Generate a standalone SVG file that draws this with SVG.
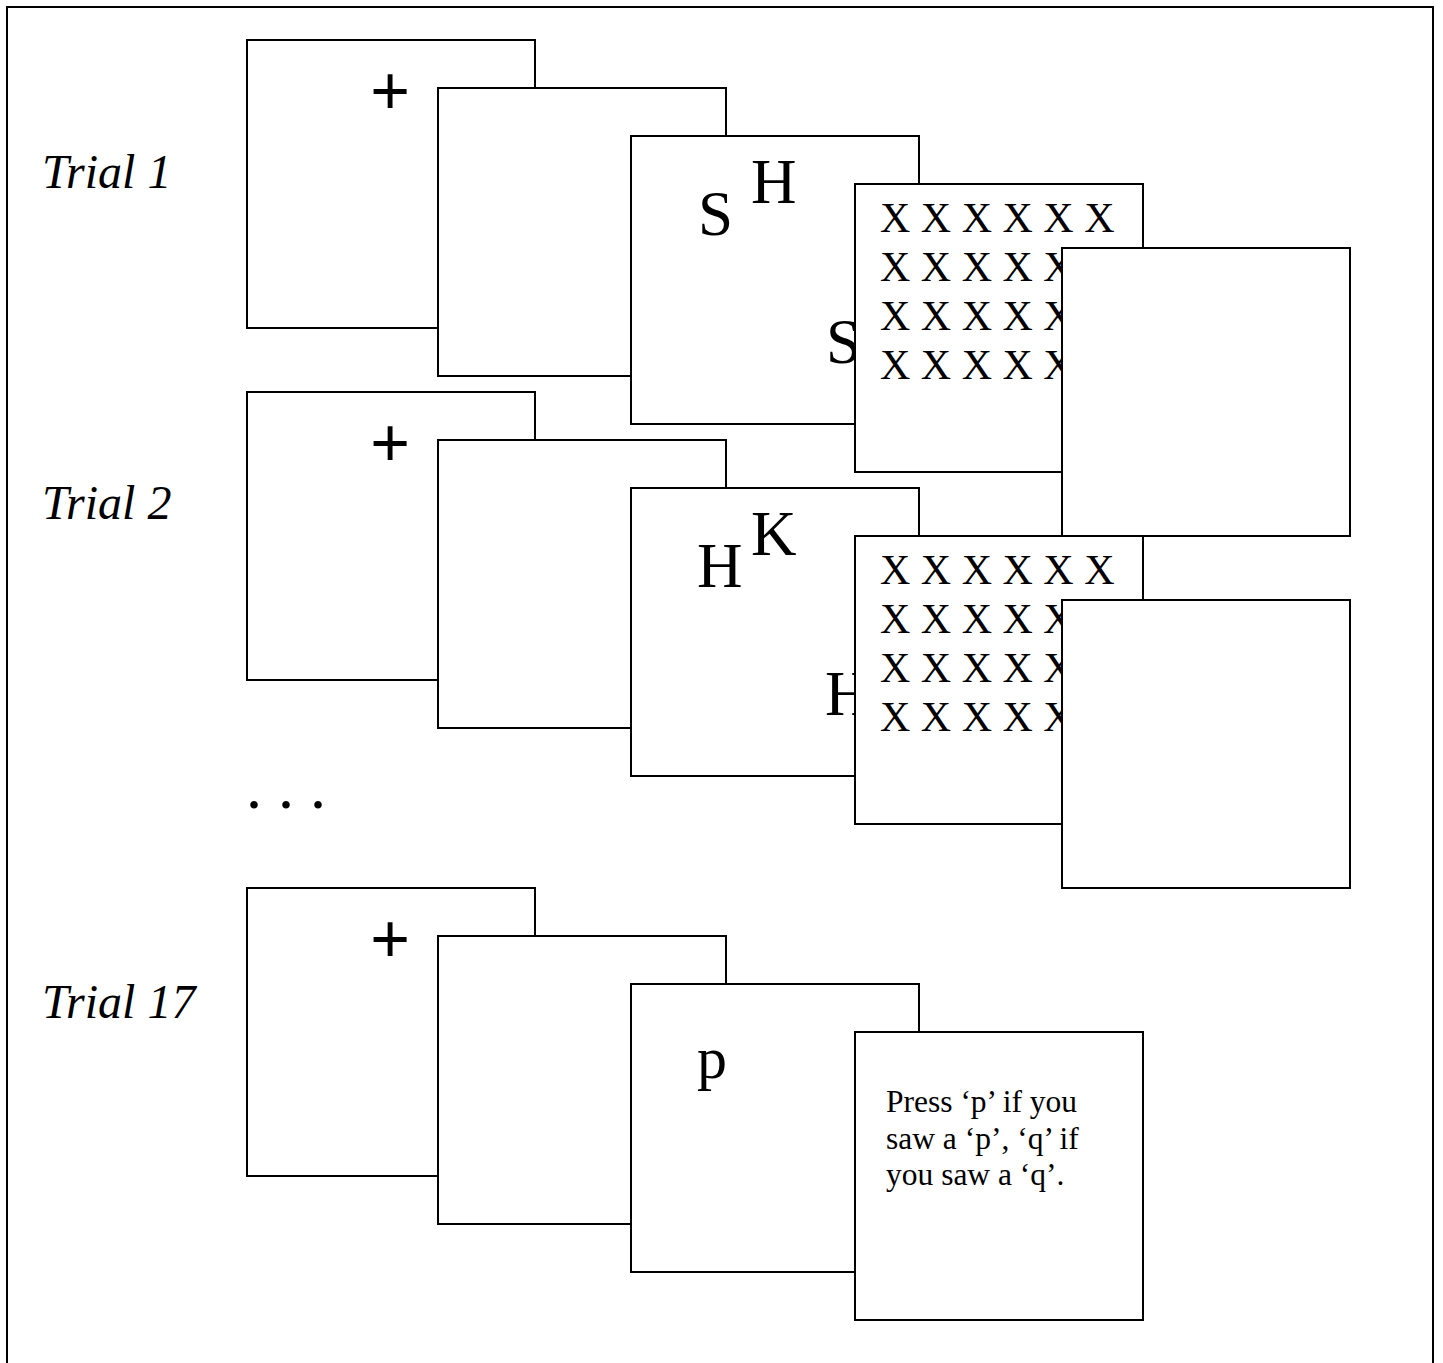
<svg xmlns="http://www.w3.org/2000/svg" width="1443" height="1363" viewBox="0 0 1443 1363">
  <style>
    .frame { fill: #ffffff; stroke: #000000; stroke-width: 2; }
    .border { fill: none; stroke: #000000; stroke-width: 2; }
    .label { font-family: "Liberation Serif", "Times New Roman", serif; font-style: italic; font-size: 48px; fill: #000; }
    .fix { font-family: "Liberation Sans", Arial, sans-serif; font-size: 68px; fill: #000; text-anchor: middle; }
    .letter { font-family: "Liberation Serif", "Times New Roman", serif; font-size: 63px; fill: #000; }
    .mask { font-family: "Liberation Serif", "Times New Roman", serif; font-size: 42px; fill: #000; }
    .probe { font-family: "Liberation Serif", "Times New Roman", serif; font-size: 60px; fill: #000; }
    .prompt { font-family: "Liberation Serif", "Times New Roman", serif; font-size: 31.5px; fill: #000; }
    .dots { font-family: "Liberation Serif", "Times New Roman", serif; font-size: 64px; fill: #000; }
  </style>

  <rect x="0" y="0" width="1443" height="1363" fill="#ffffff"/>
  <path class="border" d="M7,1375 V7 H1433 V1375"/>

  <!-- Row labels -->
  <g id="labels">
    <text class="label" x="42" y="188">Trial 1</text>
    <text class="label" x="42" y="519">Trial 2</text>
    <text class="label" x="42" y="1018">Trial 17</text>
    <text class="dots" x="246" y="808">. . .</text>
  </g>

  <!-- Trial 1 -->
  <g id="t1-fixation">
    <rect class="frame" x="247" y="40" width="288" height="288"/>
    <text class="fix" x="390" y="114">+</text>
  </g>
  <g id="t1-blank">
    <rect class="frame" x="438" y="88" width="288" height="288"/>
  </g>
  <g id="t1-letters">
    <rect class="frame" x="631" y="136" width="288" height="288"/>
    <text class="letter" x="698" y="235">S</text>
    <text class="letter" x="751" y="203">H</text>
    <text class="letter" x="826" y="363">S</text>
  </g>
  <g id="t1-mask">
    <rect class="frame" x="855" y="184" width="288" height="288"/>
    <text class="mask" x="880" y="232">X X X X X X</text>
    <text class="mask" x="880" y="281">X X X X X X</text>
    <text class="mask" x="880" y="330">X X X X X X</text>
    <text class="mask" x="880" y="379">X X X X X X</text>
  </g>
  <g id="t1-end">
    <rect class="frame" x="1062" y="248" width="288" height="288"/>
  </g>

  <!-- Trial 2 -->
  <g id="t2-fixation">
    <rect class="frame" x="247" y="392" width="288" height="288"/>
    <text class="fix" x="390" y="466">+</text>
  </g>
  <g id="t2-blank">
    <rect class="frame" x="438" y="440" width="288" height="288"/>
  </g>
  <g id="t2-letters">
    <rect class="frame" x="631" y="488" width="288" height="288"/>
    <text class="letter" x="697" y="587">H</text>
    <text class="letter" x="751" y="555">K</text>
    <text class="letter" x="825" y="715">H</text>
  </g>
  <g id="t2-mask">
    <rect class="frame" x="855" y="536" width="288" height="288"/>
    <text class="mask" x="880" y="584">X X X X X X</text>
    <text class="mask" x="880" y="633">X X X X X X</text>
    <text class="mask" x="880" y="682">X X X X X X</text>
    <text class="mask" x="880" y="731">X X X X X X</text>
  </g>
  <g id="t2-end">
    <rect class="frame" x="1062" y="600" width="288" height="288"/>
  </g>

  <!-- Trial 17 -->
  <g id="t17-fixation">
    <rect class="frame" x="247" y="888" width="288" height="288"/>
    <text class="fix" x="390" y="962">+</text>
  </g>
  <g id="t17-blank">
    <rect class="frame" x="438" y="936" width="288" height="288"/>
  </g>
  <g id="t17-probe">
    <rect class="frame" x="631" y="984" width="288" height="288"/>
    <text class="probe" x="697" y="1078">p</text>
  </g>
  <g id="t17-response">
    <rect class="frame" x="855" y="1032" width="288" height="288"/>
    <text class="prompt" x="886" y="1112">Press ‘p’ if you</text>
    <text class="prompt" x="886" y="1149">saw a ‘p’, ‘q’ if</text>
    <text class="prompt" x="886" y="1185">you saw a ‘q’.</text>
  </g>

  <!-- no connectors in this figure -->
  <g id="connectors"/>
</svg>
